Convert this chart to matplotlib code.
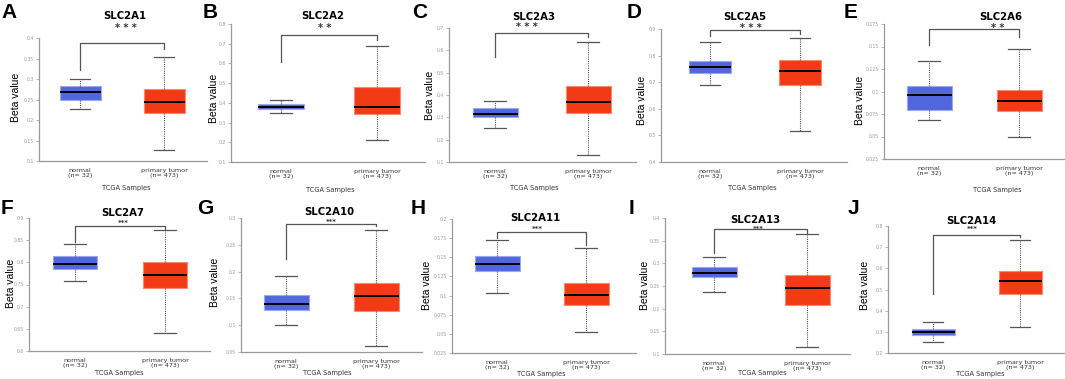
import numpy as np
import matplotlib
matplotlib.use("Agg")
import matplotlib.pyplot as plt

# gene names and panel letters
genes = ["SLC2A1", "SLC2A2", "SLC2A3", "SLC2A5", "SLC2A6",
         "SLC2A7", "SLC2A10", "SLC2A11", "SLC2A13", "SLC2A14"]
letters = ["A", "B", "C", "D", "E", "F", "G", "H", "I", "J"]
stars = ["* * *", "* *", "* * *", "* * *", "* *", "***", "***", "***", "***", "***"]

# box stats: [whislo, q1, median, q3, whishi]
normal_stats = [
    [0.226, 0.249, 0.269, 0.283, 0.299],
    [0.349, 0.369, 0.380, 0.392, 0.414],
    [0.251, 0.300, 0.316, 0.340, 0.375],
    [0.691, 0.735, 0.756, 0.781, 0.851],
    [0.0685, 0.0793, 0.0965, 0.1061, 0.134],
    [0.757, 0.784, 0.797, 0.815, 0.842],
    [0.100, 0.128, 0.139, 0.156, 0.192],
    [0.104, 0.132, 0.141, 0.152, 0.172],
    [0.237, 0.270, 0.279, 0.293, 0.314],
    [0.252, 0.285, 0.2995, 0.3115, 0.346],
]
tumor_stats = [
    [0.127, 0.217, 0.244, 0.276, 0.353],
    [0.214, 0.346, 0.380, 0.478, 0.688],
    [0.130, 0.319, 0.370, 0.442, 0.636],
    [0.518, 0.688, 0.742, 0.782, 0.867],
    [0.0496, 0.0786, 0.0898, 0.1016, 0.1474],
    [0.6415, 0.743, 0.772, 0.8005, 0.872],
    [0.0613, 0.126, 0.1547, 0.179, 0.278],
    [0.0524, 0.0877, 0.1007, 0.1164, 0.162],
    [0.1146, 0.209, 0.2448, 0.274, 0.364],
    [0.321, 0.481, 0.539, 0.5864, 0.732],
]
# significance bracket: [left leg end, top, right leg end]
brackets = [
    [0.3225, 0.388, 0.373],
    [0.608, 0.744, 0.719],
    [0.569, 0.678, 0.658],
    [0.872, 0.895, 0.881],
    [0.152, 0.1698, 0.161],
    [0.846, 0.8827, 0.875],
    [0.2237, 0.2888, 0.2844],
    [0.175, 0.1835, 0.1665],
    [0.3231, 0.375, 0.3677],
    [0.478, 0.757, 0.750],
]
# y tick ranges (lo, hi, step)
yticks = [
    (0.1, 0.4, 0.05), (0.1, 0.8, 0.1), (0.1, 0.7, 0.1), (0.4, 0.9, 0.1),
    (0.025, 0.175, 0.025), (0.6, 0.9, 0.05), (0.05, 0.3, 0.05),
    (0.025, 0.2, 0.025), (0.1, 0.4, 0.05), (0.2, 0.8, 0.1),
]
xlabels = ["normal\n(n= 32)", "primary tumor\n(n= 473)"]

# layout in pixels: x0, x1, ytop, ybottom, centre1, centre2, box width
layout = [
    (39, 207, 38, 161, 80, 164, 41),
    (231, 425, 24, 162, 281, 377, 46),
    (449, 636, 28, 162, 495, 588, 45),
    (661, 847, 29, 162, 710, 800, 42),
    (884, 1064, 24, 159, 929, 1019, 45),
    (29, 210, 218, 351, 75, 165, 44),
    (241, 422, 218, 352, 286, 376, 45),
    (452, 636, 219, 353, 497, 586, 45),
    (665, 850, 218, 354, 714, 807, 45),
    (888, 1064, 226, 353, 933, 1020, 43),
]
# text positions in pixels
letter_xy = [(9, 12), (210, 12), (420, 12), (634, 12), (851, 12),
             (7, 209), (205, 209), (418, 209), (631, 209), (853, 209)]
title_xy = [(125, 16), (323, 16), (534, 17), (745, 17), (1001, 17),
            (123, 213), (329, 212), (535, 218), (755, 220), (971, 221)]
star_xy = [(126, 28), (325, 28), (527, 27), (751, 28), (998, 28),
           (123, 223), (331, 222), (537, 229), (758, 229), (972, 229)]
beta_xy = [(16, 97), (214, 98), (430, 95), (642, 100), (860, 100),
           (11, 283), (215, 282), (427, 285), (645, 285), (865, 285)]
tcga_xy = [(126, 188), (330, 190), (534, 188), (752, 188), (997, 190),
           (119, 373), (327, 373), (541, 374), (762, 373), (980, 374)]

W, H = 1065, 379
fig = plt.figure(figsize=(W / 100, H / 100), dpi=100)

narrow = ["Liberation Sans Narrow", "DejaVu Sans"]
blue, blue_edge = "#5067dd", "#9aa9f0"
red, red_edge = "#f23a14", "#f78a72"

for i in range(10):
    x0, x1, yt, yb, c1, c2, bw = layout[i]
    ax = fig.add_axes([x0 / W, 1 - yb / H, (x1 - x0) / W, (yb - yt) / H])
    unit = c2 - c1
    ax.set_xlim(1 - (c1 - x0) / unit, 2 + (x1 - c2) / unit)
    lo, hi, st = yticks[i]
    ax.set_ylim(lo, hi)

    stats = []
    for s, lab in zip([normal_stats[i], tumor_stats[i]], ["normal", "tumor"]):
        stats.append(dict(whislo=s[0], q1=s[1], med=s[2], q3=s[3], whishi=s[4],
                          label=lab, fliers=[]))
    width = bw / unit
    bp = ax.bxp(stats, positions=[1, 2], widths=width, patch_artist=True,
                showfliers=False, capwidths=width * 0.48,
                whiskerprops=dict(color="#555555", linestyle=(0, (1, 1)), linewidth=0.8),
                capprops=dict(color="#555555", linewidth=0.9),
                medianprops=dict(color="black", linewidth=1.4))
    bp["boxes"][0].set_facecolor(blue)
    bp["boxes"][0].set_edgecolor(blue_edge)
    bp["boxes"][1].set_facecolor(red)
    bp["boxes"][1].set_edgecolor(red_edge)
    for b in bp["boxes"]:
        b.set_linewidth(0.8)

    # significance bracket
    bl, btop, br = brackets[i]
    ax.plot([1, 1, 2, 2], [bl, btop, btop, br], color="#555555", lw=0.9,
            clip_on=False)

    ticks = np.arange(lo, hi + st / 2, st)
    ax.set_yticks(ticks)
    ax.set_yticklabels(["{:g}".format(round(t, 3)) for t in ticks],
                       fontsize=3.3, color="#999999")
    ax.tick_params(axis="y", length=2, width=0.5, color="#999999", pad=1.5)
    ax.set_xticks([1, 2])
    ax.set_xticklabels(xlabels, fontsize=4.6, family=narrow, color="#333333",
                       linespacing=1.05)
    ax.tick_params(axis="x", length=0, pad=5)
    for side in ["top", "right"]:
        ax.spines[side].set_visible(False)
    for side in ["left", "bottom"]:
        ax.spines[side].set_color("#999999")
        ax.spines[side].set_linewidth(0.9)
    ax.patch.set_alpha(0)

    lx, ly = letter_xy[i]
    fig.text(lx / W, 1 - ly / H, letters[i], fontsize=15, fontweight="bold",
             family="Liberation Sans", ha="center", va="center")
    tx, ty = title_xy[i]
    fig.text(tx / W, 1 - ty / H, genes[i], fontsize=7.3, fontweight="bold",
             ha="center", va="center")
    sx, sy = star_xy[i]
    fig.text(sx / W, 1 - sy / H, stars[i], fontsize=7 if i < 5 else 5,
             fontweight="bold", ha="center", va="center", color="#333333")
    bx, by = beta_xy[i]
    fig.text(bx / W, 1 - by / H, "Beta value", fontsize=7.5, rotation=90,
             family="Liberation Sans", ha="center", va="center")
    gx, gy = tcga_xy[i]
    fig.text(gx / W, 1 - gy / H, "TCGA Samples", fontsize=4.8, family=narrow,
             ha="center", va="center", color="#333333")

fig.savefig("out.png", dpi=100)
